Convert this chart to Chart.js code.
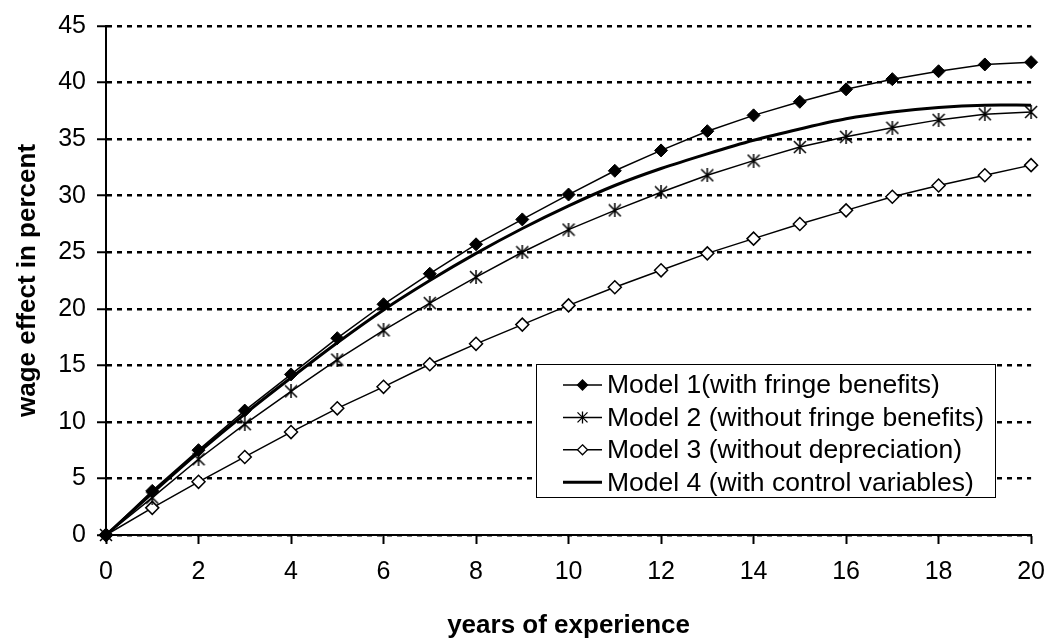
<!DOCTYPE html>
<html>
<head>
<meta charset="utf-8">
<script src="https://cdn.jsdelivr.net/npm/chart.js@4.4.1/dist/chart.umd.min.js"></script>
<style>
  html, body { margin: 0; padding: 0; background: #fff; }
  #wrap { width: 1058px; height: 641px; }
</style>
</head>
<body>
<div id="wrap"><canvas id="myChart" width="1058" height="641"></canvas></div>
<script>
const years = [0, 1, 2, 3, 4, 5, 6, 7, 8, 9, 10, 11, 12, 13, 14, 15, 16, 17, 18, 19, 20];

const model1 = [0, 3.9, 7.5, 11.0, 14.2, 17.4, 20.4, 23.1, 25.7, 27.9, 30.1, 32.2, 34.0, 35.7, 37.1, 38.3, 39.4, 40.3, 41.0, 41.6, 41.8];
const model2 = [0, 3.3, 6.7, 9.8, 12.7, 15.5, 18.1, 20.5, 22.8, 25.0, 27.0, 28.7, 30.3, 31.8, 33.1, 34.3, 35.2, 36.0, 36.7, 37.2, 37.4];
const model3 = [0, 2.4, 4.7, 6.9, 9.1, 11.2, 13.1, 15.1, 16.9, 18.6, 20.3, 21.9, 23.4, 24.9, 26.2, 27.5, 28.7, 29.9, 30.9, 31.8, 32.7];
const model4 = [0, 3.7, 7.3, 10.7, 13.9, 17.0, 19.9, 22.5, 24.9, 27.1, 29.1, 30.9, 32.4, 33.7, 34.9, 35.9, 36.8, 37.4, 37.8, 38.0, 38.0];

const seriesLabels = [
  'Model 1(with fringe benefits)',
  'Model 2 (without fringe benefits)',
  'Model 3 (without depreciation)',
  'Model 4 (with control variables)'
];

const xTickValues = [0, 2, 4, 6, 8, 10, 12, 14, 16, 18, 20];
const yTickValues = [0, 5, 10, 15, 20, 25, 30, 35, 40, 45];

const FONT = '"Liberation Sans", Arial, Helvetica, sans-serif';
Chart.defaults.font.family = FONT;
Chart.defaults.color = '#000';

// excel style asterisk marker: an X with a vertical bar
function makeAsterisk(size, lw) {
  const c = document.createElement('canvas');
  c.width = size;
  c.height = size;
  const g = c.getContext('2d');
  g.strokeStyle = '#000';
  g.lineWidth = lw;
  g.beginPath();
  g.moveTo(1, 1); g.lineTo(size - 1, size - 1);
  g.moveTo(size - 1, 1); g.lineTo(1, size - 1);
  g.moveTo(size / 2, 0); g.lineTo(size / 2, size);
  g.stroke();
  return c;
}
const asterisk = makeAsterisk(14, 1.5);

function pts(values) {
  return years.map((x, i) => ({ x: x, y: values[i] }));
}

const data = {
  datasets: [
    {
      label: seriesLabels[0],
      data: pts(model1),
      borderColor: '#000',
      borderWidth: 1.5,
      pointStyle: 'rectRot',
      pointRadius: 6.5,
      pointBackgroundColor: '#000',
      pointBorderColor: '#000',
      pointBorderWidth: 1,
      tension: 0,
      clip: false
    },
    {
      label: seriesLabels[1],
      data: pts(model2),
      borderColor: '#000',
      borderWidth: 1.5,
      pointStyle: asterisk,
      pointRadius: 7,
      tension: 0,
      clip: false
    },
    {
      label: seriesLabels[2],
      data: pts(model3),
      borderColor: '#000',
      borderWidth: 1.5,
      pointStyle: 'rectRot',
      pointRadius: 6.5,
      pointBackgroundColor: '#fff',
      pointBorderColor: '#000',
      pointBorderWidth: 1.5,
      tension: 0,
      clip: false
    },
    {
      label: seriesLabels[3],
      data: pts(model4),
      borderColor: '#000',
      borderWidth: 3,
      pointRadius: 0,
      tension: 0.3,
      clip: false
    }
  ]
};

// legend drawn inside the plot, like the original
const legendBox = {
  id: 'legendBox',
  afterDraw(chart) {
    const ctx = chart.ctx;
    const left = 536, top = 364, w = 459, h = 133;
    ctx.save();
    ctx.fillStyle = '#fff';
    ctx.fillRect(left, top, w, h);
    ctx.strokeStyle = '#000';
    ctx.lineWidth = 1;
    ctx.strokeRect(left + 0.5, top + 0.5, w, h);

    chart.data.datasets.forEach((ds, i) => {
      const y = top + 21 + i * 32.4;
      const mx = 582.5;
      ctx.strokeStyle = '#000';
      ctx.lineWidth = ds.borderWidth;
      ctx.beginPath();
      ctx.moveTo(563, y);
      ctx.lineTo(602, y);
      ctx.stroke();

      ctx.lineWidth = 1.3;
      if (i === 0 || i === 2) {
        const r = 5;
        ctx.beginPath();
        ctx.moveTo(mx, y - r);
        ctx.lineTo(mx + r, y);
        ctx.lineTo(mx, y + r);
        ctx.lineTo(mx - r, y);
        ctx.closePath();
        ctx.fillStyle = i === 0 ? '#000' : '#fff';
        ctx.fill();
        ctx.stroke();
      } else if (i === 1) {
        const r = 5;
        ctx.beginPath();
        ctx.moveTo(mx - r, y - r); ctx.lineTo(mx + r, y + r);
        ctx.moveTo(mx + r, y - r); ctx.lineTo(mx - r, y + r);
        ctx.moveTo(mx, y - r - 1); ctx.lineTo(mx, y + r + 1);
        ctx.stroke();
      }

      ctx.fillStyle = '#000';
      ctx.font = '26.5px ' + FONT;
      ctx.textBaseline = 'middle';
      ctx.textAlign = 'left';
      ctx.fillText(ds.label, 607, y + 1);
    });
    ctx.restore();
  }
};

const config = {
  type: 'line',
  data: data,
  options: {
    responsive: false,
    animation: false,
    layout: { padding: { top: 23, right: 19, left: 0, bottom: 0 } },
    plugins: {
      legend: { display: false },
      tooltip: { enabled: false }
    },
    scales: {
      x: {
        type: 'linear',
        min: 0,
        max: 20,
        afterBuildTicks: (scale) => { scale.ticks = xTickValues.map(v => ({ value: v })); },
        afterFit: (scale) => { scale.height = 106; },
        grid: {
          drawOnChartArea: false,
          drawTicks: true,
          tickLength: 9,
          tickColor: '#000',
          tickWidth: 2
        },
        border: { display: true, color: '#000', width: 2 },
        ticks: {
          font: { size: 25 },
          color: '#000',
          padding: 13,
          maxRotation: 0
        },
        title: {
          display: true,
          text: 'years of experience',
          font: { size: 26, weight: 'bold', lineHeight: 1.2 },
          color: '#000',
          padding: { top: 0, bottom: 0 }
        }
      },
      y: {
        min: 0,
        max: 45,
        afterBuildTicks: (scale) => { scale.ticks = yTickValues.map(v => ({ value: v })); },
        afterFit: (scale) => { scale.width = 106; },
        grid: {
          drawOnChartArea: true,
          drawTicks: true,
          tickLength: 9,
          color: '#000',
          lineWidth: 2.5,
          tickColor: '#000',
          tickWidth: 2,
          tickBorderDash: []
        },
        border: { display: true, color: '#000', width: 2, dash: [5, 5] },
        ticks: {
          font: { size: 25 },
          color: '#000',
          padding: 11
        },
        title: {
          display: true,
          text: 'wage effect in percent',
          font: { size: 26, weight: 'bold', lineHeight: 1.2 },
          color: '#000',
          padding: { top: 12, bottom: 0 }
        }
      }
    }
  },
  plugins: [legendBox]
};

const myChart = new Chart(document.getElementById('myChart').getContext('2d'), config);
</script>
</body>
</html>
